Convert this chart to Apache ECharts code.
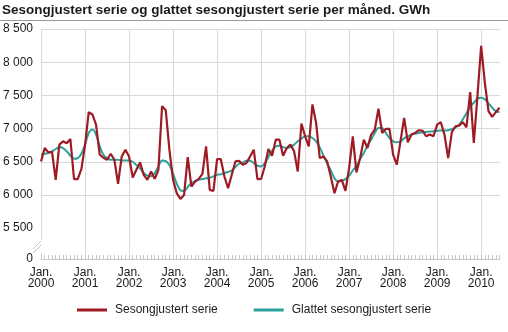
<!DOCTYPE html>
<html>
<head>
<meta charset="utf-8">
<script src="https://cdn.jsdelivr.net/npm/echarts@6/dist/echarts.min.js"></script>
<style>
  html, body { margin: 0; padding: 0; background: #fff; }
  #chart { width: 508px; height: 332px; }
</style>
</head>
<body>
<div id="chart"></div>
<script>
// Months Jan 2000 .. Jun 2010
var startYear = 2000;
var monthCount = 126;
var categories = [];
for (var i = 0; i < monthCount; i++) {
  var y = startYear + Math.floor(i / 12);
  var m = (i % 12) + 1;
  categories.push(y + 'M' + (m < 10 ? '0' + m : m));
}

var seasonAdjusted = [
  6505, 6707, 6641, 6650, 6227, 6758, 6808, 6780, 6843, 6238, 6238, 6390,
  6750, 7247, 7212, 7060, 6606, 6560, 6530, 6621, 6530, 6167, 6580, 6682,
  6580, 6262, 6379, 6490, 6303, 6227, 6353, 6242, 6379, 7338, 7277, 6682,
  6227, 6026, 5940, 6000, 6570, 6126, 6202, 6242, 6318, 6732, 6076, 6060,
  6540, 6540, 6278, 6101, 6303, 6505, 6515, 6455, 6480, 6580, 6682, 6238,
  6240, 6429, 6692, 6591, 6833, 6833, 6591, 6707, 6758, 6657, 6353, 7076,
  6884, 6732, 7364, 7086, 6556, 6580, 6505, 6278, 6026, 6202, 6227, 6061,
  6404, 6884, 6338, 6556, 6833, 6707, 6909, 6985, 7298, 6934, 6995, 6995,
  6606, 6455, 6808, 7162, 6793, 6909, 6934, 6975, 6970, 6884, 6909, 6884,
  7060, 7096, 6909, 6556, 6944, 7035, 7045, 7096, 7020, 7550, 6783, 7500,
  8247, 7692, 7262, 7177, 7247, 7313
];

var smoothed = [
  6606, 6621, 6631, 6657, 6692, 6722, 6707, 6657, 6591, 6545, 6555, 6621,
  6758, 6934, 6985, 6909, 6732, 6606, 6555, 6530, 6530, 6530, 6520, 6520,
  6520, 6500, 6450, 6400, 6330, 6290, 6280, 6330, 6430, 6520, 6510, 6450,
  6320, 6170, 6070, 6060, 6120, 6180, 6210, 6230, 6240, 6250, 6260, 6280,
  6303, 6310, 6330, 6345, 6368, 6420, 6470, 6490, 6515, 6515, 6480, 6440,
  6430, 6480, 6570, 6670, 6730, 6740, 6720, 6707, 6720, 6758, 6808, 6849,
  6884, 6884, 6858, 6808, 6717, 6591, 6480, 6368, 6252, 6202, 6212, 6238,
  6293, 6368, 6440, 6540, 6631, 6742, 6833, 6934, 7010, 7010, 6934, 6858,
  6808, 6793, 6808, 6853, 6884, 6909, 6924, 6934, 6944, 6950, 6955, 6960,
  6965, 6970, 6970, 6975, 6990, 7015, 7060, 7140, 7230, 7330, 7389, 7450,
  7465, 7440, 7380, 7313, 7262, 7247
];

var yTicks = [0, 5500, 6000, 6500, 7000, 7500, 8000, 8500];

var seriesNames = ['Sesongjustert serie', 'Glattet sesongjustert serie'];
var titleText = 'Sesongjustert serie og glattet sesongjustert serie per måned. GWh';

function fmt(v) {
  return String(v).replace(/\B(?=(\d{3})+(?!\d))/g, ' ');
}

var chart = echarts.init(document.getElementById('chart'), null, { renderer: 'canvas' });
var fontFamily = 'Arial, "Liberation Sans", Helvetica, sans-serif';

chart.setOption({
  animation: false,
  textStyle: { fontFamily: fontFamily },
  title: {
    text: titleText,
    left: 2,
    top: 3,
    padding: 0,
    textStyle: { fontSize: 13.5, fontWeight: 'bold', color: '#1a1a1a', fontFamily: fontFamily }
  },
  legend: {
    left: 72,
    top: 299,
    itemWidth: 30,
    itemHeight: 3,
    itemGap: 36,
    icon: 'rect',
    textStyle: { fontSize: 12, color: '#1a1a1a', padding: [0, 0, 0, 3] },
    data: seriesNames
  },
  grid: { left: 38.5, right: 8.5, top: 29, bottom: 73, containLabel: false },
  xAxis: {
    type: 'category',
    data: categories,
    boundaryGap: false,
    axisLine: { show: true, lineStyle: { color: '#c8c8c8', width: 1 } },
    axisTick: {
      show: true, inside: true, length: 4, interval: 0,
      lineStyle: { color: '#c8c8c8' }
    },
    axisLabel: {
      interval: function (idx) { return idx % 12 === 0; },
      formatter: function (val) {
        return 'Jan.\n' + val.slice(0, 4);
      },
      color: '#1a1a1a',
      fontSize: 12,
      lineHeight: 11,
      margin: 8
    },
    splitLine: {
      show: true,
      interval: function (idx) { return idx % 12 === 0; },
      lineStyle: { color: '#d9d9d9', width: 1 }
    }
  },
  yAxis: {
    type: 'value',
    min: 0,
    max: 8500,
    interval: 500,
    breaks: [{ start: 465, end: 5500, gap: 0 }],
    breakArea: { show: false },
    breakLabelLayout: { moveOverlap: false },
    axisLine: { show: false },
    axisTick: { show: false },
    axisLabel: {
      color: '#1a1a1a',
      fontSize: 12,
      margin: 8,
      formatter: function (v) {
        return yTicks.indexOf(v) >= 0 ? fmt(v) : '';
      }
    },
    splitLine: { show: true, lineStyle: { color: '#d9d9d9', width: 1 } }
  },
  series: [
    {
      name: seriesNames[0],
      type: 'line',
      data: seasonAdjusted,
      symbol: 'none',
      lineStyle: { color: '#9e1b23', width: 2.2 },
      itemStyle: { color: '#9e1b23' },
      z: 3
    },
    {
      name: seriesNames[1],
      type: 'line',
      data: smoothed,
      symbol: 'none',
      smooth: 0.3,
      lineStyle: { color: '#2aa19b', width: 2 },
      itemStyle: { color: '#2aa19b' },
      z: 2
    }
  ],
  graphic: [
    { type: 'line', shape: { x1: 0, y1: 20.5, x2: 508, y2: 20.5 }, style: { stroke: '#9a9a9a', lineWidth: 1 }, silent: true },
    { type: 'rect', shape: { x: 34, y: 240, width: 9, height: 13 }, style: { fill: '#fff' }, silent: true, z: 50 },
    { type: 'line', shape: { x1: 33, y1: 249, x2: 41, y2: 241 }, style: { stroke: '#c0c0c0', lineWidth: 1 }, silent: true, z: 51 },
    { type: 'line', shape: { x1: 33, y1: 253, x2: 41, y2: 245 }, style: { stroke: '#c0c0c0', lineWidth: 1 }, silent: true, z: 51 }
  ]
});
</script>
</body>
</html>
